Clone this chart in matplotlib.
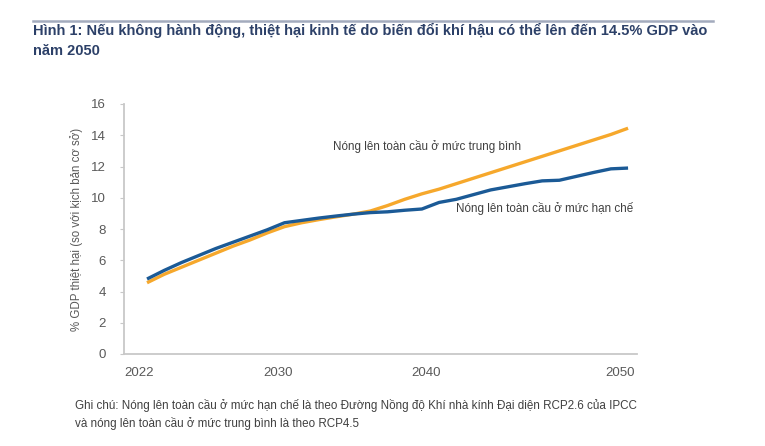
import matplotlib
matplotlib.use("Agg")
import matplotlib.pyplot as plt
from matplotlib.lines import Line2D

years = list(range(2022, 2051))
moderate = [4.56, 5.1, 5.55, 6.0, 6.45, 6.9, 7.3, 7.75, 8.15, 8.4, 8.6, 8.78, 8.95, 9.15,
            9.5, 9.9, 10.25, 10.55, 10.9, 11.25, 11.6, 11.95, 12.3, 12.65, 13.0, 13.35,
            13.7, 14.05, 14.45]
limited = [4.8, 5.35, 5.85, 6.3, 6.75, 7.15, 7.55, 7.95, 8.4, 8.55, 8.7, 8.83, 8.95, 9.05,
           9.1, 9.2, 9.28, 9.7, 9.9, 10.2, 10.5, 10.7, 10.9, 11.08, 11.12, 11.37, 11.62,
           11.85, 11.9]
yticks = [0, 2, 4, 6, 8, 10, 12, 14, 16]
xtick_labels = ["2022", "2030", "2040", "2050"]
xtick_pos = [2021.53, 2029.63, 2038.24, 2049.53]

title = ("Hình 1: Nếu không hành động, thiệt hại kinh tế do biến đổi khí hậu có thể lên đến 14.5% GDP vào\n"
         "năm 2050")
ylabel = "% GDP thiệt hại (so với kịch bản cơ sở)"
label_mod = "Nóng lên toàn cầu ở mức trung bình"
label_lim = "Nóng lên toàn cầu ở mức hạn chế"
note = ("Ghi chú: Nóng lên toàn cầu ở mức hạn chế là theo Đường Nồng độ Khí nhà kính Đại diện RCP2.6 của IPCC\n"
        "và nóng lên toàn cầu ở mức trung bình là theo RCP4.5")

plt.rcParams['font.family'] = ['Liberation Sans', 'DejaVu Sans']

W, H = 765, 446
fig = plt.figure(figsize=(W / 100, H / 100), dpi=100)
ax = fig.add_axes([124 / W, 1 - 354 / H, (637 - 124) / W, (354 - 104) / H])

blue = "#1b5a96"
orange = "#f6a82c"
ax.plot(years, limited, color=blue, lw=2.4, solid_capstyle='butt', zorder=3)
ax.plot(years, moderate, color=orange, lw=2.4, solid_capstyle='butt', zorder=2)

ax.set_xlim(2020.66, 2050.52)
ax.set_ylim(0, 16)
ax.set_yticks(yticks)
ax.set_xticks(xtick_pos)
ax.set_xticklabels(xtick_labels)
for s in ["top", "right"]:
    ax.spines[s].set_visible(False)
for s in ["left", "bottom"]:
    ax.spines[s].set_color("#c8c8c8")
    ax.spines[s].set_linewidth(1.3)
ax.tick_params(axis='y', length=3, color="#c8c8c8", labelsize=9.5, labelcolor="#595959", pad=10)
ax.tick_params(axis='x', length=0, labelsize=9.5, labelcolor="#595959", pad=9)
ax.set_ylabel(ylabel, fontsize=8.3, color="#595959", labelpad=6)

ax.text(2032.83, 13.3, label_mod, fontsize=8.4, color="#404040", va='center', ha='left')
ax.text(2040.0, 9.34, label_lim, fontsize=8.4, color="#404040", va='center', ha='left')

fig.add_artist(Line2D([33 / W, 713 / W], [1 - 21 / H, 1 - 21 / H], color="#a3abbd", lw=1.8))
fig.text(33 / W, 1 - 23 / H, title, fontsize=10.5, fontweight='bold', color="#2c4068",
         va='top', ha='left', linespacing=1.5)
fig.text(75 / W, 1 - 399 / H, note, fontsize=8.4, color="#404040", va='top', ha='left', linespacing=1.45)

fig.savefig("out.png", dpi=100)
